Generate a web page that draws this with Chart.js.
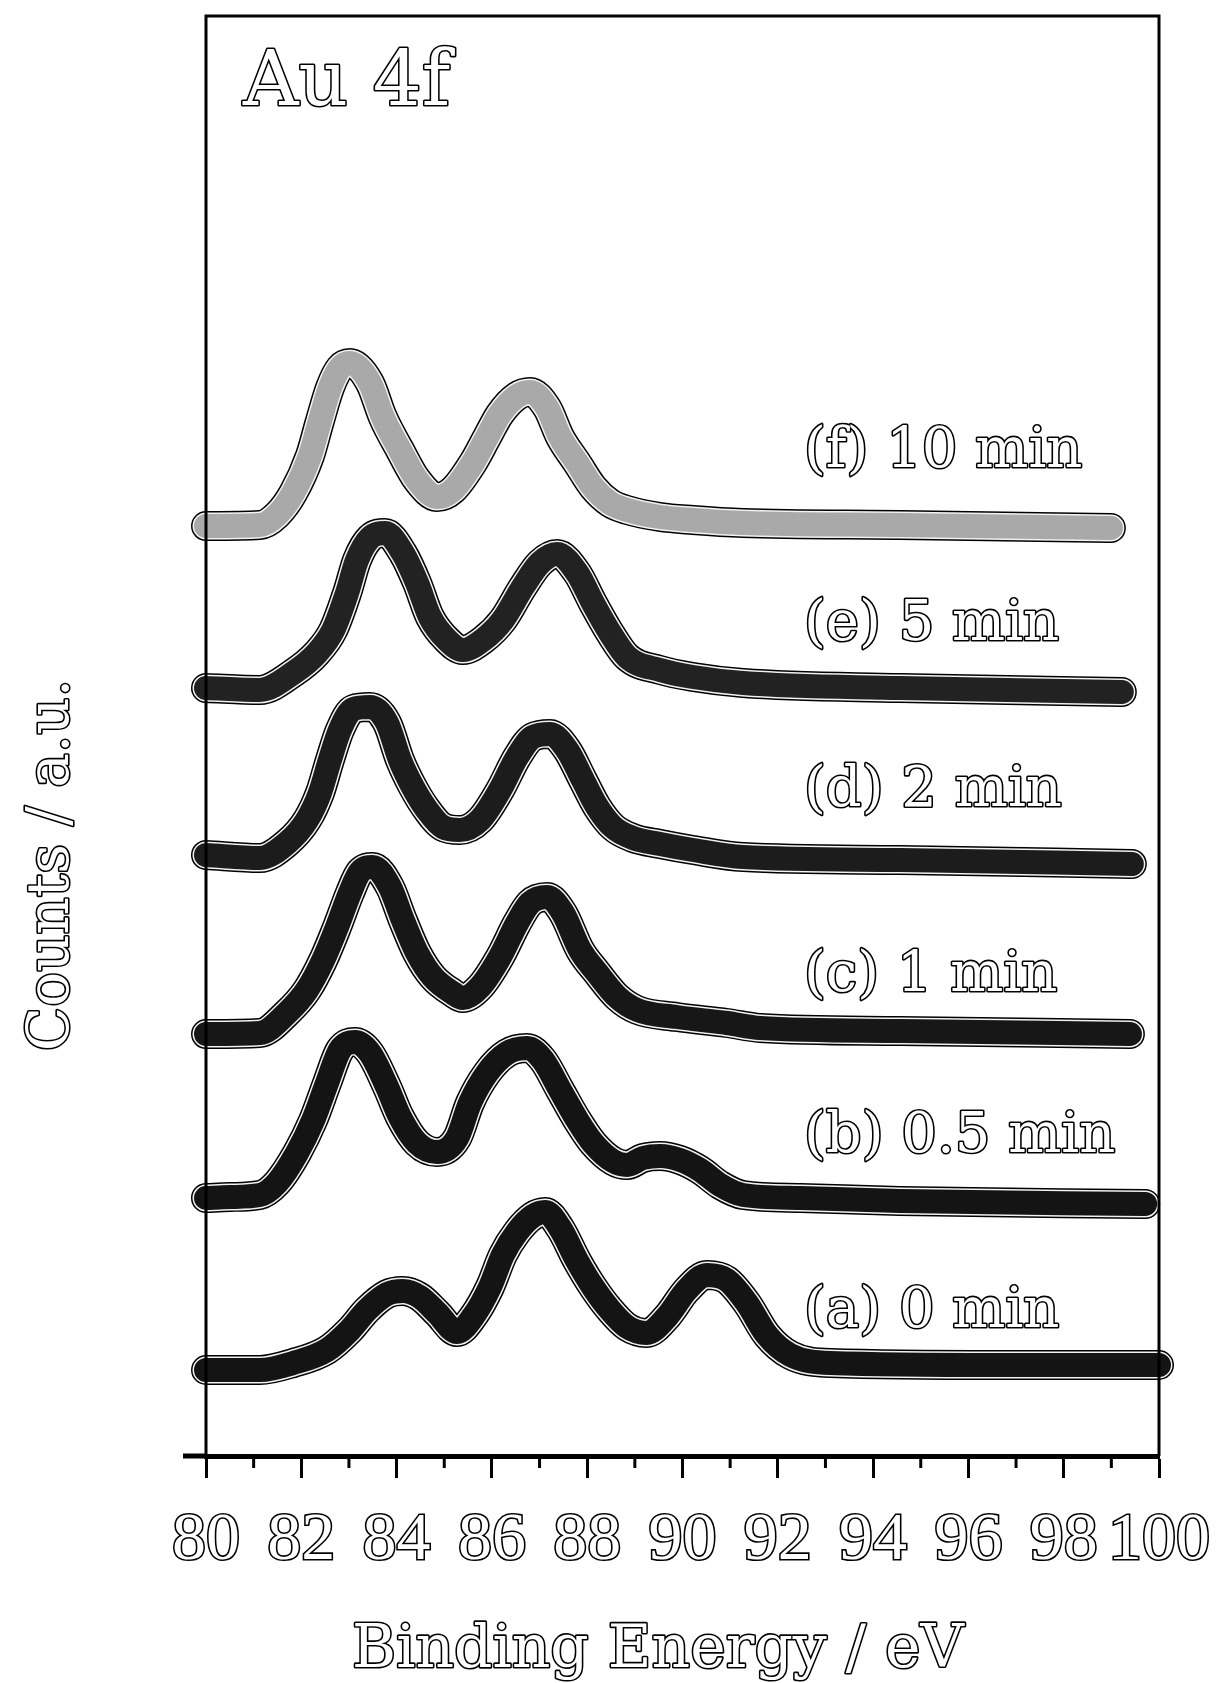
<!DOCTYPE html>
<html>
<head>
<meta charset="utf-8">
<script src="https://cdn.jsdelivr.net/npm/chart.js@4.4.1/dist/chart.umd.min.js"></script>
<style>
  html, body { margin: 0; padding: 0; background: #ffffff; }
  #wrap { width: 1216px; height: 1683px; }
</style>
</head>
<body>
<div id="wrap"><canvas id="c" width="1216" height="1683"></canvas></div>
<script>
// ---- data (binding energy in eV, counts in a.u., curves already stacked) ----
const seriesLabels = ['(a) 0 min', '(b) 0.5 min', '(c) 1 min', '(d) 2 min', '(e) 5 min', '(f) 10 min'];

const energyA = [80.0, 81.13, 81.83, 82.54, 83.02, 83.38, 83.80, 84.13, 84.49, 84.85, 85.27, 85.60, 85.96, 86.23, 86.53, 86.86, 87.12, 87.43, 87.79, 88.12, 88.48, 88.84, 89.25, 89.67, 90.09, 90.51, 90.93, 91.35, 91.77, 92.26, 93.10, 96.66, 100.0];
const countsA = [8.6, 8.6, 9.3, 10.6, 12.6, 14.6, 16.2, 16.5, 15.9, 14.3, 12.4, 13.9, 16.9, 20.1, 22.4, 24.0, 24.4, 22.8, 19.5, 16.9, 14.6, 12.9, 12.3, 13.9, 16.6, 18.1, 17.6, 15.3, 12.1, 10.1, 9.3, 9.1, 9.1];

const energyB = [80.0, 80.50, 81.13, 81.49, 81.91, 82.25, 82.54, 82.81, 83.13, 83.44, 83.80, 84.07, 84.43, 84.85, 85.27, 85.54, 85.90, 86.32, 86.74, 87.07, 87.43, 87.79, 88.12, 88.54, 88.84, 89.17, 89.53, 89.95, 90.37, 90.79, 91.27, 92.47, 94.56, 99.71];
const countsB = [25.8, 25.9, 26.1, 27.3, 30.3, 33.6, 37.3, 40.6, 41.4, 40.3, 36.9, 33.9, 31.3, 30.4, 31.8, 35.3, 38.3, 40.3, 40.8, 39.6, 36.6, 33.6, 31.3, 29.5, 29.1, 29.8, 30.0, 29.6, 28.6, 27.1, 26.1, 25.8, 25.5, 25.2];

const energyC = [80.0, 81.13, 81.70, 82.12, 82.46, 82.75, 83.02, 83.23, 83.50, 83.86, 84.13, 84.43, 84.76, 85.18, 85.39, 85.75, 86.17, 86.53, 86.80, 87.16, 87.49, 87.85, 88.21, 88.63, 89.05, 89.88, 90.93, 91.63, 94.56, 99.39];
const countsC = [42.2, 42.3, 44.3, 46.6, 49.6, 52.9, 56.3, 58.4, 58.9, 56.9, 53.6, 50.3, 47.9, 46.3, 45.8, 46.9, 49.9, 53.3, 55.3, 55.9, 54.3, 50.6, 48.3, 45.9, 44.6, 43.9, 43.3, 42.8, 42.5, 42.2];

const energyD = [80.0, 81.13, 81.70, 82.12, 82.39, 82.60, 82.81, 83.09, 83.44, 83.80, 84.07, 84.34, 84.64, 84.97, 85.33, 85.75, 86.17, 86.53, 86.86, 87.22, 87.58, 87.91, 88.21, 88.54, 88.96, 89.53, 90.22, 91.27, 94.56, 99.43];
const countsD = [60.1, 59.8, 61.3, 63.6, 66.3, 69.6, 72.6, 74.7, 74.9, 73.3, 69.6, 66.9, 64.6, 62.9, 62.6, 63.6, 66.6, 69.9, 71.9, 72.2, 70.6, 67.6, 64.9, 62.9, 61.8, 61.2, 60.6, 59.9, 59.6, 59.2];

const energyE = [80.0, 81.13, 81.83, 82.33, 82.67, 82.96, 83.17, 83.44, 83.76, 84.13, 84.43, 84.70, 85.06, 85.39, 85.81, 86.23, 86.65, 87.01, 87.37, 87.79, 88.12, 88.48, 88.84, 89.53, 90.22, 91.27, 94.56, 99.22];
const countsE = [76.8, 76.6, 78.3, 80.3, 82.6, 86.3, 89.6, 91.8, 92.3, 90.3, 87.3, 83.9, 81.6, 80.6, 81.6, 83.6, 86.9, 89.3, 90.2, 88.3, 85.3, 82.3, 79.9, 78.6, 77.9, 77.3, 76.8, 76.4];

const energyF = [80.0, 81.13, 81.49, 81.83, 82.18, 82.39, 82.60, 82.81, 83.02, 83.44, 83.71, 84.07, 84.43, 84.85, 85.18, 85.60, 85.90, 86.17, 86.53, 86.80, 87.16, 87.43, 87.79, 88.12, 88.48, 88.84, 89.53, 90.22, 91.27, 94.56, 98.99];
const countsF = [93.0, 93.1, 94.1, 96.3, 100.0, 103.5, 106.8, 108.8, 109.3, 107.3, 103.9, 100.6, 97.6, 95.9, 96.6, 99.3, 101.9, 104.2, 106.0, 106.4, 104.8, 101.9, 99.3, 96.9, 95.3, 94.6, 93.9, 93.6, 93.3, 93.1, 92.8];

const xTickValues = [80, 82, 84, 86, 88, 90, 92, 94, 96, 98, 100];
const xTickLabels = ['80', '82', '84', '86', '88', '90', '92', '94', '96', '98', '100'];
const xMinorTickValues = [81, 83, 85, 87, 89, 91, 93, 95, 97, 99];
const xAxisTitle = 'Binding Energy / eV';
const yAxisTitle = 'Counts / a.u.';
const panelTitle = 'Au 4f';

// ---- build datasets ----
const energies = [energyA, energyB, energyC, energyD, energyE, energyF];
const counts = [countsA, countsB, countsC, countsD, countsE, countsF];
const bandColors = ['#141414', '#141414', '#171717', '#1c1c1c', '#222222', '#a9a9a9'];

const datasets = seriesLabels.map((lab, i) => ({
  label: lab,
  data: energies[i].map((e, k) => ({ x: e, y: counts[i][k] })),
  borderColor: bandColors[i],
  borderWidth: 24,
  borderCapStyle: 'round',
  borderJoinStyle: 'round',
  cubicInterpolationMode: 'monotone',
  pointRadius: 0,
  fill: false,
  clip: false
}));

const SERIF = "'DejaVu Serif', 'Liberation Serif', serif";

function hollowText(ctx, text, x, y, size, align, baseline, family) {
  ctx.font = size + 'px ' + (family || SERIF);
  ctx.textAlign = align;
  ctx.textBaseline = baseline;
  ctx.lineJoin = 'round';
  ctx.lineWidth = 3.2;
  ctx.strokeStyle = '#000';
  ctx.strokeText(text, x, y);
  ctx.fillStyle = '#ffffff';
  ctx.fillText(text, x, y);
}

const decor = {
  id: 'decor',
  beforeDatasetDraw(chart, args) {
    const el = args.meta.dataset;
    if (!el || !el.points || !el.points.length) return;
    const ctx = chart.ctx;
    const w = el.options.borderWidth;
    ctx.save();
    ctx.lineCap = 'round';
    ctx.lineJoin = 'round';
    ctx.beginPath();
    el.path(ctx);
    ctx.lineWidth = w + 6;
    ctx.strokeStyle = '#000';
    ctx.stroke();
    ctx.beginPath();
    el.path(ctx);
    ctx.lineWidth = w + 3;
    ctx.strokeStyle = '#f2f2f2';
    ctx.stroke();
    ctx.restore();
  },
  afterDraw(chart, args, opts) {
    const { ctx, chartArea: ca, scales: { x, y } } = chart;
    ctx.save();
    // frame (left, top, right)
    ctx.strokeStyle = '#000';
    ctx.lineWidth = 3;
    ctx.beginPath();
    ctx.moveTo(ca.left, ca.bottom);
    ctx.lineTo(ca.left, ca.top);
    ctx.lineTo(ca.right, ca.top);
    ctx.lineTo(ca.right, ca.bottom);
    ctx.stroke();
    // axis line extension to the left
    ctx.lineWidth = 5;
    ctx.beginPath();
    ctx.moveTo(ca.left - 23, ca.bottom);
    ctx.lineTo(ca.left, ca.bottom);
    ctx.stroke();
    // minor ticks
    ctx.lineWidth = 3;
    xMinorTickValues.forEach(v => {
      const px = x.getPixelForValue(v);
      ctx.beginPath();
      ctx.moveTo(px, ca.bottom);
      ctx.lineTo(px, ca.bottom + 12);
      ctx.stroke();
    });
    // panel title
    hollowText(ctx, panelTitle, ca.left + 37, 105, 77, 'left', 'alphabetic');
    // series labels
    seriesLabels.forEach((lab, i) => {
      hollowText(ctx, lab, x.getPixelForValue(opts.labelX), y.getPixelForValue(opts.labelY[i]), 56, 'left', 'middle');
    });
    // x axis title
    hollowText(ctx, xAxisTitle, 658, 1667, 60, 'center', 'alphabetic');
    // y axis title
    ctx.save();
    ctx.translate(68, 865);
    ctx.rotate(-Math.PI / 2);
    hollowText(ctx, yAxisTitle, 0, 0, 58, 'center', 'alphabetic');
    ctx.restore();
    ctx.restore();
  }
};

new Chart(document.getElementById('c'), {
  type: 'line',
  data: { datasets },
  plugins: [decor],
  options: {
    responsive: false,
    animation: false,
    devicePixelRatio: 1,
    layout: { padding: { left: 206, right: 57, top: 16, bottom: 0 } },
    plugins: {
      legend: { display: false },
      tooltip: { enabled: false },
      decor: {
        labelX: 92.55,
        labelY: [14.4, 31.9, 48.0, 66.5, 83.1, 100.4]
      }
    },
    scales: {
      x: {
        type: 'linear',
        min: 80,
        max: 100,
        position: 'bottom',
        afterBuildTicks: s => { s.ticks = xTickValues.map(v => ({ value: v })); },
        afterFit: s => { s.height = 227; s.paddingLeft = 0; s.paddingRight = 0; },
        ticks: {
          autoSkip: false,
          maxRotation: 0,
          minRotation: 0,
          padding: 22,
          color: '#ffffff',
          textStrokeColor: '#000000',
          textStrokeWidth: 3.2,
          font: { family: "'Liberation Serif', 'DejaVu Serif', serif", size: 68 },
          callback: v => xTickLabels[xTickValues.indexOf(v)]
        },
        grid: { drawOnChartArea: false, drawTicks: true, tickLength: 22, tickColor: '#000', tickWidth: 3, color: '#000' },
        border: { display: true, color: '#000', width: 5 }
      },
      y: { type: 'linear', min: 0, max: 144, display: false }
    }
  }
});
</script>
</body>
</html>
